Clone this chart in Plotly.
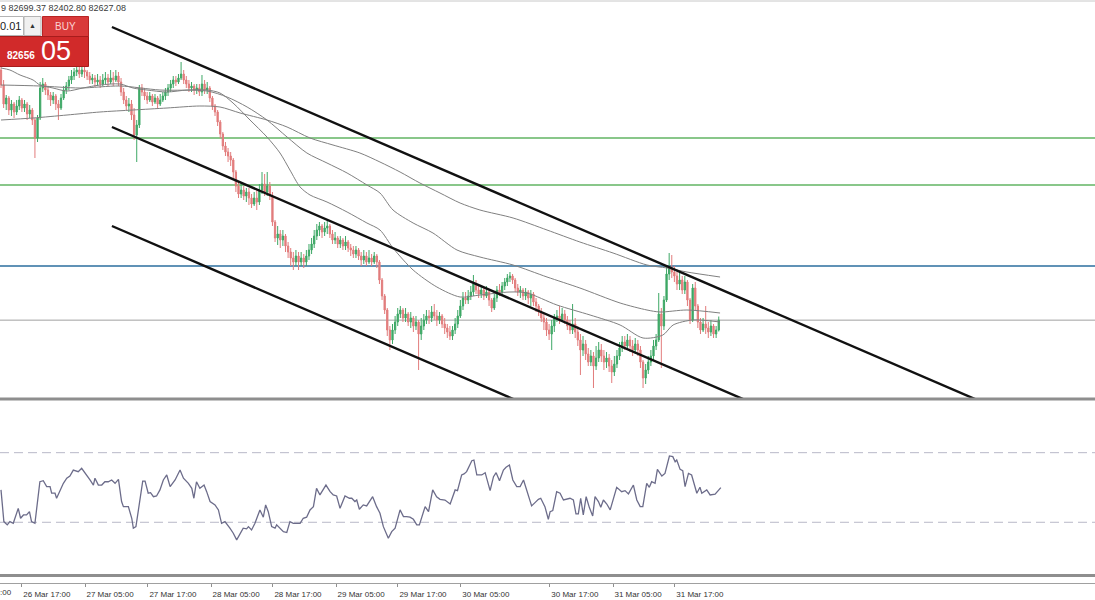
import plotly.graph_objects as go

# ---------------- data (30-minute bars, bar index on x) ----------------
FIRST_OPEN = 87630
close = [
    87330, 86950, 87070, 86830, 86950, 86790, 86910, 87030, 86870, 86950,
    86750, 86830, 86630, 86270, 86670, 87270, 87350, 87230, 87130, 87030,
    87110, 86950, 86870, 87070, 87230, 87310, 87430, 87510, 87590, 87630,
    87550, 87630, 87590, 87510, 87430, 87470, 87390, 87430, 87350, 87430,
    87470, 87390, 87470, 87430, 87510, 87390, 87190, 87030, 86910, 86950,
    86730, 86330, 86530, 87270, 87190, 87110, 87030, 87110, 86990, 87070,
    86950, 87030, 87110, 87190, 87270, 87350, 87430, 87390, 87470, 87550,
    87430, 87350, 87270, 87310, 87230, 87270, 87190, 87350, 87230, 87270,
    87070, 86910, 86790, 86590, 86350, 86110, 85990, 85910, 85830, 85590,
    85310, 85150, 85230, 85110, 85190, 85070, 84950, 85070, 84990, 85230,
    85350, 85190, 85310, 85110, 84590, 84270, 84350, 84230, 84310, 84110,
    83990, 83870, 83790, 83910, 83790, 83870, 83790, 83910, 84030, 84150,
    84310, 84430, 84510, 84390, 84470, 84510, 84350, 84230, 84270, 84150,
    84230, 84110, 84190, 84070, 84030, 83950, 84030, 83910, 83830, 83910,
    83790, 83870, 83790, 83910, 83790, 83430, 83110, 82830, 82430, 82230,
    82430, 82590, 82750, 82830, 82670, 82750, 82590, 82670, 82510, 82590,
    82350, 82510, 82630, 82710, 82670, 82790, 82710, 82630, 82710, 82550,
    82470, 82390, 82310, 82430, 82550, 82710, 82910, 83070, 83030, 83110,
    83190, 83350, 83230, 83150, 83230, 83110, 83190, 83030, 82870, 83070,
    83230, 83190, 83310, 83390, 83470, 83510, 83430, 83270, 83190, 83230,
    83110, 83190, 83070, 83150, 82990, 82910, 82790, 82670, 82590, 82430,
    82350, 82510, 82670, 82710, 82630, 82750, 82630, 82510, 82430, 82550,
    82390, 82230, 82030, 82150, 81950, 81790, 81910, 81710, 81870, 82030,
    81910, 81790, 81870, 81710, 81590, 81750, 81910, 82070, 82190, 82110,
    82230, 82110, 82030, 82150, 82030, 81790, 81470, 81630, 81790, 81910,
    82110, 82230, 82750, 82510, 83030, 83550, 83670, 83590, 83510, 83350,
    83430, 83230, 83390, 83030, 82630, 83270, 82910, 82590, 82430, 82550,
    82470, 82390, 82510, 82350, 82430, 82627,
]
high = [
    87750, 87430, 87130, 87110, 87030, 86990, 87030, 87110, 87070, 87030,
    86990, 86930, 86870, 86670, 86730, 87390, 87470, 87390, 87310, 87190,
    87190, 87150, 87030, 87150, 87310, 87390, 87510, 87630, 87670, 87710,
    87690, 87710, 87690, 87630, 87590, 87550, 87530, 87550, 87510, 87550,
    87590, 87550, 87630, 87590, 87630, 87590, 87470, 87270, 87110, 87070,
    87030, 86870, 86630, 87330, 87350, 87270, 87190, 87190, 87150, 87150,
    87110, 87150, 87190, 87270, 87350, 87430, 87510, 87510, 87550, 87790,
    87630, 87510, 87430, 87390, 87350, 87350, 87350, 87530, 87430, 87390,
    87310, 87110, 86950, 86830, 86630, 86390, 86190, 86070, 85990, 85870,
    85630, 85390, 85350, 85310, 85270, 85270, 85150, 85190, 85230, 85350,
    85590, 85550, 85590, 85390, 85190, 84630, 84510, 84430, 84430, 84350,
    84190, 84070, 83990, 84030, 83990, 83990, 83950, 84030, 84150, 84270,
    84430, 84550, 84590, 84550, 84590, 84630, 84550, 84430, 84390, 84310,
    84310, 84270, 84310, 84230, 84150, 84110, 84110, 84070, 83990, 84030,
    83990, 84030, 83950, 83990, 83950, 83830, 83470, 83150, 82870, 82510,
    82550, 82710, 82870, 82910, 82870, 82870, 82790, 82790, 82710, 82710,
    82630, 82670, 82750, 82830, 82830, 82910, 82950, 82830, 82790, 82750,
    82670, 82550, 82510, 82510, 82670, 82830, 83030, 83190, 83190, 83230,
    83310, 83530, 83430, 83310, 83310, 83270, 83310, 83230, 83070, 83150,
    83310, 83350, 83390, 83470, 83550, 83590, 83550, 83470, 83350, 83310,
    83270, 83270, 83230, 83230, 83190, 83070, 82950, 82870, 82750, 82670,
    82550, 82630, 82750, 82830, 82910, 82870, 82830, 82710, 82630, 82950,
    82670, 82510, 82350, 82310, 82230, 82070, 82030, 81990, 82110, 82190,
    82150, 82030, 81990, 81950, 81830, 81910, 82030, 82190, 82310, 82310,
    82350, 82310, 82230, 82270, 82230, 82110, 81830, 81750, 81910, 82030,
    82230, 82350, 83170, 82870, 83110, 83710, 83970, 83930, 83710, 83590,
    83590, 83510, 83510, 83430, 83070, 83350, 83390, 82950, 82670, 82670,
    82910, 82590, 82630, 82550, 82510, 82700,
]
low = [
    87270, 86870, 86830, 86730, 86710, 86670, 86730, 86830, 86790, 86790,
    86630, 86670, 86530, 85870, 86190, 86630, 87190, 87130, 87030, 86910,
    86950, 86830, 86630, 86830, 87030, 87150, 87230, 87350, 87430, 87510,
    87470, 87490, 87470, 87430, 87350, 87350, 87290, 87310, 87270, 87310,
    87350, 87310, 87350, 87310, 87390, 87310, 87110, 86950, 86830, 86790,
    86630, 86230, 85790, 86470, 87110, 87030, 86950, 86990, 86910, 86950,
    86870, 86910, 86990, 87030, 87110, 87190, 87270, 87310, 87350, 87430,
    87350, 87270, 87190, 87190, 87130, 87150, 87110, 87110, 87150, 87150,
    86990, 86830, 86710, 86510, 86270, 86030, 85910, 85790, 85710, 85470,
    85190, 85070, 85070, 85030, 84990, 84930, 84870, 84910, 84830, 84930,
    85150, 85110, 85110, 85030, 84510, 84190, 84130, 84070, 84110, 83990,
    83870, 83710, 83630, 83710, 83630, 83710, 83670, 83710, 83830, 83950,
    84070, 84230, 84310, 84270, 84310, 84350, 84270, 84150, 84150, 84070,
    84070, 84030, 84030, 83990, 83910, 83870, 83870, 83830, 83710, 83750,
    83710, 83750, 83710, 83750, 83670, 83350, 83030, 82750, 82310, 82030,
    82150, 82350, 82510, 82670, 82590, 82590, 82510, 82470, 82390, 82430,
    81630, 82230, 82430, 82550, 82550, 82590, 82630, 82510, 82550, 82470,
    82350, 82270, 82230, 82230, 82350, 82470, 82670, 82830, 82950, 82950,
    83030, 83110, 83150, 83070, 83070, 83030, 83070, 82910, 82790, 82830,
    82990, 83110, 83150, 83230, 83310, 83390, 83350, 83190, 83110, 83070,
    83030, 83030, 82950, 82910, 82910, 82790, 82710, 82590, 82430, 82310,
    82230, 82030, 82390, 82590, 82550, 82590, 82550, 82430, 82350, 82350,
    82270, 82110, 81530, 81910, 81830, 81710, 81710, 81270, 81630, 81790,
    81790, 81630, 81670, 81590, 81370, 81510, 81670, 81830, 81990, 82030,
    82030, 81990, 81910, 81950, 81910, 81670, 81270, 81350, 81550, 81710,
    81830, 82030, 82190, 81670, 82430, 82990, 83430, 83470, 83390, 83230,
    83230, 83150, 83150, 82910, 82550, 82590, 82830, 82470, 82350, 82390,
    82350, 82270, 82310, 82270, 82270, 82400,
]

# moving averages
MA_A_BAR = [0, 3.4, 7.3, 12.3, 14.9, 19.9, 25.3, 31.4, 37.9, 45.6, 50.6, 55.9, 63.6, 71.3,
            78.9, 83.9, 88.9, 95.4, 101.9, 106.9, 110.7, 114.6, 118.4, 124.9, 132.6, 140.2,
            145.2, 150.2, 157.9, 167.0, 175.9, 183.5, 195.0, 201.5, 213.0, 225.7, 237.2,
            246.0, 253.6, 257.5, 265.1, 275.5]
MA_A_VAL = [87670, 87630, 87530, 87430, 87330, 87270, 87210, 87270, 87330, 87350, 87270,
            87230, 87190, 87230, 87230, 87170, 86970, 86630, 86290, 85970, 85630, 85290,
            85130, 84990, 84790, 84570, 84430, 84070, 83630, 83290, 83090, 83130, 83190,
            83170, 82930, 82730, 82530, 82270, 82330, 82530, 82630, 82590]
MA_B_BAR = [0, 14.9, 30.3, 45.6, 60.9, 78.9, 86.6, 94.3, 101.9, 109.6, 117.2, 124.9, 132.6,
            140.2, 145.2, 150.2, 157.9, 165.5, 174.7, 183.5, 196.2, 209.2, 221.8, 237.2,
            247.5, 252.5, 262.8, 275.5]
MA_B_VAL = [87330, 87310, 87270, 87310, 87230, 87210, 87090, 86890, 86630, 86290, 85970,
            85770, 85570, 85330, 85170, 84830, 84570, 84370, 84030, 83890, 83730, 83490,
            83270, 82970, 82830, 82790, 82830, 82770]
MA_C_BAR = [0, 12.3, 25.3, 37.9, 50.6, 63.6, 76.2, 83.9, 91.6, 101.9, 109.6, 118.4, 127.2,
            137.5, 145.2, 152.9, 160.5, 168.2, 175.9, 183.5, 196.2, 209.2, 221.8, 234.5,
            247.5, 255.2, 262.8, 275.5]
MA_C_VAL = [86630, 86670, 86730, 86790, 86830, 86870, 86910, 86890, 86770, 86630, 86490,
            86270, 86130, 85970, 85790, 85590, 85370, 85170, 84970, 84830, 84670, 84430,
            84190, 83970, 83730, 83670, 83590, 83490]

# RSI readings
RSI_BAR = [0, 1.1, 2.4, 3.4, 4.7, 6.6, 7.5, 8.6, 9.8, 10.9, 11.7, 13.0, 14.9, 16.2, 17.5,
           18.8, 19.4, 20.7, 21.3, 22.6, 23.9, 25.2, 26.4, 27.7, 29.6, 30.9, 32.2, 34.1,
           35.4, 36.0, 37.3, 38.6, 39.8, 41.1, 42.4, 43.7, 45.0, 46.2, 46.9, 48.8, 50.1,
           50.7, 51.7, 53.3, 54.3, 55.2, 56.4, 57.3, 58.4, 59.6, 60.9, 62.2, 63.5, 64.8,
           66.7, 68.6, 69.9, 71.8, 73.1, 73.9, 74.9, 76.2, 77.8, 78.8, 80.1, 82.0, 83.3,
           84.5, 85.8, 87.7, 89.0, 90.3, 91.6, 92.8, 94.1, 94.8, 96.0, 97.3, 99.2, 100.5,
           101.4, 102.4, 103.7, 105.0, 105.6, 106.9, 108.2, 109.5, 110.7, 112.0, 114.6,
           115.8, 117.1, 118.4, 119.7, 120.9, 122.2, 124.5, 126.1, 127.3, 128.6, 129.9,
           131.8, 133.5, 134.4, 135.6, 136.3, 137.3, 138.8, 140.1, 141.4, 142.4, 143.9,
           145.2, 146.5, 147.5, 148.4, 149.7, 151.0, 152.9, 154.2, 155.4, 156.7, 158.0,
           159.3, 160.3, 162.5, 163.8, 165.4, 166.9, 168.2, 170.1, 172.1, 174.0, 174.9,
           176.5, 177.4, 178.4, 180.4, 181.2, 182.3, 184.2, 185.5, 187.4, 188.7, 189.7,
           191.0, 192.5, 193.5, 194.8, 196.1, 197.6, 198.9, 200.2, 201.7, 203.3, 204.6,
           205.9, 206.8, 208.4, 209.7, 210.4, 211.4, 212.9, 214.2, 215.5, 218.0, 219.3,
           220.3, 221.2, 222.1, 223.1, 224.2, 225.4, 226.7, 227.6, 228.9, 229.8, 230.8,
           232.1, 233.4, 235.9, 237.8, 239.1, 240.4, 242.3, 243.6, 244.9, 245.9, 247.4,
           248.4, 249.3, 250.6, 251.5, 253.2, 254.4, 256.1, 257.4, 258.3, 258.9, 260.2,
           261.2, 262.1, 263.4, 264.6, 266.6, 267.8, 268.5, 270.4, 271.7, 273.6, 274.9,
           275.8]
RSI_VAL = [48.6, 30.4, 28.5, 30.4, 29.4, 38.0, 32.3, 34.2, 34.2, 36.1, 30.4, 29.4, 53.3,
           53.9, 50.5, 50.5, 46.7, 46.7, 43.8, 48.6, 52.4, 55.3, 56.6, 60.0, 59.1, 61.0,
           58.5, 54.3, 51.4, 55.3, 51.4, 51.4, 53.3, 53.3, 54.3, 52.4, 54.7, 41.9, 39.0,
           39.0, 32.3, 26.6, 27.5, 42.8, 53.7, 53.7, 46.7, 47.0, 44.7, 45.1, 48.6, 54.3,
           57.2, 50.5, 54.3, 60.0, 55.3, 52.4, 49.5, 43.8, 53.3, 49.5, 51.4, 47.6, 41.9,
           40.0, 37.1, 29.4, 30.4, 26.6, 23.7, 19.9, 23.7, 26.6, 26.2, 27.5, 25.6, 29.4,
           37.1, 32.9, 40.0, 36.1, 27.5, 26.6, 28.5, 26.6, 24.6, 24.1, 30.4, 29.4, 29.4,
           32.3, 32.9, 37.1, 39.0, 49.5, 45.7, 51.4, 47.6, 45.7, 45.1, 38.0, 45.1, 43.8,
           43.8, 41.9, 42.8, 37.5, 40.0, 39.4, 42.8, 44.7, 39.0, 35.2, 27.5, 23.7, 20.8,
           24.6, 26.6, 37.1, 33.3, 33.3, 32.9, 31.7, 28.5, 28.5, 39.0, 36.1, 48.6, 44.7,
           43.2, 42.8, 40.5, 48.6, 48.2, 57.2, 57.8, 59.1, 65.4, 65.8, 57.2, 57.2, 58.5,
           48.2, 56.2, 58.5, 53.9, 60.0, 61.6, 62.9, 54.3, 50.5, 50.5, 54.3, 46.7, 39.4,
           41.3, 43.2, 43.8, 39.0, 31.7, 36.1, 36.7, 47.6, 46.7, 42.8, 43.8, 42.8, 34.8,
           34.8, 43.8, 34.2, 44.7, 38.6, 33.6, 44.7, 41.9, 38.6, 42.8, 40.5, 37.1, 50.1,
           47.6, 48.2, 46.3, 51.4, 42.8, 39.0, 39.0, 52.4, 50.1, 53.3, 52.4, 60.4, 56.6,
           58.1, 68.1, 67.7, 64.8, 65.8, 60.4, 59.7, 50.5, 58.1, 57.2, 46.7, 50.1, 46.7,
           48.6, 45.7, 46.1, 48.6, 49.9]
RSI_LEVELS = [70, 30]

# hand-drawn objects
LEVELS = [86270, 85330, 83710]
LEVEL_COLORS = ['#62b463', '#62b463', '#2b6e9e']
CHANNEL_BARS = [[42.5, 400], [42.5, 300], [42.5, 250]]
CHANNEL_PRICES = [[88490, 80446], [86490, 80696], [84510, 79841]]

TICK_BARS = [8.0, 32.2, 56.3, 80.5, 104.2, 128.4, 152.1, 176.2, 210.3, 234.5, 258.2]
TICK_LABELS = ['26 Mar 17:00', '27 Mar 05:00', '27 Mar 17:00', '28 Mar 05:00',
               '28 Mar 17:00', '29 Mar 05:00', '29 Mar 17:00', '30 Mar 05:00',
               '30 Mar 17:00', '31 Mar 05:00', '31 Mar 17:00']

# ---------------- build ----------------
W, H = 1095, 600
def PX(x):
    return x / W
def PY(y):
    return 1 - y / H

bars = list(range(len(close)))
opens = [FIRST_OPEN] + close[:-1]
hi = [max(h, o, c) for h, o, c in zip(high, opens, close)]
lo = [min(l, o, c) for l, o, c in zip(low, opens, close)]

FONT = 'Liberation Sans, Arial, sans-serif'
fig = go.Figure()

for bx, vals in ((MA_C_BAR, MA_C_VAL), (MA_B_BAR, MA_B_VAL), (MA_A_BAR, MA_A_VAL)):
    fig.add_trace(go.Scatter(x=bx, y=vals, mode='lines', xaxis='x', yaxis='y',
                             line=dict(color='#808080', width=1, shape='spline', smoothing=0.8),
                             hoverinfo='skip'))

fig.add_trace(go.Candlestick(
    x=bars, open=opens, high=hi, low=lo, close=close, xaxis='x', yaxis='y',
    increasing=dict(line=dict(color='#3ea866', width=1), fillcolor='#3ea866'),
    decreasing=dict(line=dict(color='#e27c7c', width=1), fillcolor='#e27c7c'),
    whiskerwidth=0, hoverinfo='skip'))

for bx, py in zip(CHANNEL_BARS, CHANNEL_PRICES):
    fig.add_trace(go.Scatter(x=bx, y=py, mode='lines', xaxis='x', yaxis='y',
                             line=dict(color='#111111', width=2.4), hoverinfo='skip'))

fig.add_trace(go.Scatter(x=RSI_BAR, y=RSI_VAL, mode='lines', xaxis='x', yaxis='y2',
                         line=dict(color='#6c6c8a', width=1.3), hoverinfo='skip'))

shapes = []
for lv, col in zip(LEVELS, LEVEL_COLORS):
    shapes.append(dict(type='line', xref='x domain', yref='y', x0=0, x1=1, y0=lv, y1=lv,
                       line=dict(color=col, width=1.5), layer='below'))
shapes.append(dict(type='line', xref='x domain', yref='y', x0=0, x1=1, y0=close[-1], y1=close[-1],
                   line=dict(color='#a0a0a0', width=1), layer='below'))
for lv in RSI_LEVELS:
    shapes.append(dict(type='line', xref='x domain', yref='y2', x0=0, x1=1, y0=lv, y1=lv,
                       line=dict(color='#b8b8c8', width=1, dash='9px,5px'), layer='below'))
# pane separators
shapes.append(dict(type='line', xref='paper', yref='paper', x0=0, x1=1, y0=PY(1), y1=PY(1),
                   line=dict(color='#c8c8c8', width=1)))
for yy in (399, 575.5):
    shapes.append(dict(type='line', xref='paper', yref='paper', x0=0, x1=1, y0=PY(yy), y1=PY(yy),
                       line=dict(color='#8e8e8e', width=3)))
# one-click trading panel
shapes += [
    dict(type='rect', xref='paper', yref='paper', x0=PX(-1), x1=PX(23.5), y0=PY(35.5), y1=PY(16.5),
         fillcolor='#ffffff', line=dict(color='#b4b4b4', width=1)),
    dict(type='rect', xref='paper', yref='paper', x0=PX(24), x1=PX(41), y0=PY(35.5), y1=PY(16.5),
         fillcolor='#f0f0f0', line=dict(color='#b4b4b4', width=1)),
    dict(type='rect', xref='paper', yref='paper', x0=PX(42.5), x1=PX(88.5), y0=PY(36.5), y1=PY(16.5),
         fillcolor='#d93a3a', line=dict(color='#b82424', width=1)),
    dict(type='rect', xref='paper', yref='paper', x0=PX(-1), x1=PX(88.5), y0=PY(66.5), y1=PY(36.5),
         fillcolor='#d12a2a', line=dict(color='#a81c1c', width=1)),
]

ann = [
    dict(text='9 82699.37 82402.80 82627.08', x=PX(-1), y=PY(8.5), xanchor='left', yanchor='middle',
         font=dict(family=FONT, size=9, color='#3a3a3a')),
    dict(text='0.01', x=PX(-2), y=PY(26), xanchor='left', yanchor='middle',
         font=dict(family=FONT, size=11, color='#222222')),
    dict(text='▲', x=PX(32.5), y=PY(25.5), xanchor='center', yanchor='middle',
         font=dict(family=FONT, size=7, color='#333333')),
    dict(text='BUY', x=PX(65.5), y=PY(26.5), xanchor='center', yanchor='middle',
         font=dict(family=FONT, size=10, color='#fbd2d2')),
    dict(text='<b>82656</b>', x=PX(5), y=PY(55), xanchor='left', yanchor='middle',
         font=dict(family=FONT, size=10, color='#ffffff')),
    dict(text='05', x=PX(39), y=PY(51), xanchor='left', yanchor='middle',
         font=dict(family=FONT, size=27, color='#ffffff')),
    dict(text='26 Mar 05:00', x=PX(-38), y=PY(592), xanchor='left', yanchor='middle',
         font=dict(family=FONT, size=8, color='#333333')),
]
for a in ann:
    a.update(xref='paper', yref='paper', showarrow=False)

fig.update_layout(
    width=W, height=H, margin=dict(l=0, r=0, t=0, b=0),
    paper_bgcolor='white', plot_bgcolor='white', showlegend=False,
    xaxis=dict(domain=[0, 1], range=[-1 / 2.61, (W - 1) / 2.61], anchor='y2',
               rangeslider=dict(visible=False), showgrid=False, zeroline=False,
               showline=True, linecolor='#a0a0a0', linewidth=1,
               ticks='outside', ticklen=3, tickcolor='#909090',
               tickvals=TICK_BARS, ticktext=TICK_LABELS, ticklabelshift=25,
               tickfont=dict(family=FONT, size=8, color='#333333')),
    yaxis=dict(domain=[PY(398), 1], range=[81070, 89030], visible=False, fixedrange=True),
    yaxis2=dict(domain=[PY(583), PY(401)], range=[-4.9, 99.7], visible=False),
    shapes=shapes, annotations=ann,
)

fig.write_html('out.html', config={'displayModeBar': False},
               post_script="document.body.style.margin='0';document.body.style.overflow='hidden';")
